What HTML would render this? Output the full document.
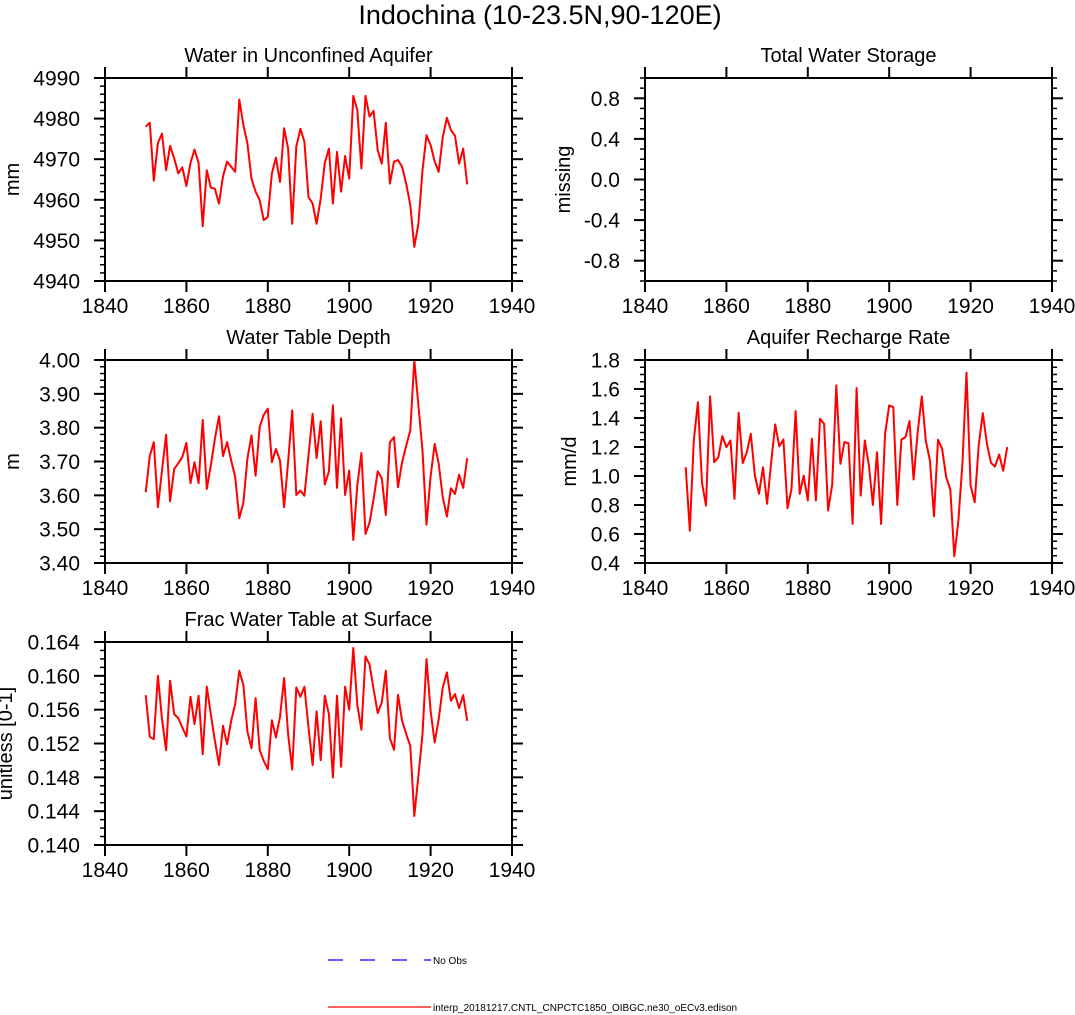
<!DOCTYPE html>
<html><head><meta charset="utf-8"><style>
html,body{margin:0;padding:0;background:#fff;}
svg{display:block;font-family:"Liberation Sans",sans-serif;}
</style></head><body>
<svg id="chart" width="1075" height="1015" viewBox="0 0 1075 1015" xmlns="http://www.w3.org/2000/svg">
<text x="540" y="24" text-anchor="middle" font-size="27">Indochina (10-23.5N,90-120E)</text>
<g>
<line x1="328" y1="960" x2="431" y2="960" stroke="#0000ff" stroke-width="1.2" stroke-dasharray="15,17"/>
<text x="433" y="964" font-size="10">No Obs</text>
<line x1="328" y1="1007" x2="431" y2="1007" stroke="#ff0000" stroke-width="1.2"/>
<text x="433" y="1011" font-size="10">interp_20181217.CNTL_CNPCTC1850_OIBGC.ne30_oECv3.edison</text>
</g>
</svg>
<script>
const years = [];
for (let y = 1850; y <= 1929; y++) years.push(y);
const xTicks = [1840, 1860, 1880, 1900, 1920, 1940];
const aquiferVals = [4978.0,4979.0,4964.7,4974.0,4976.3,4967.3,4973.3,4970.2,4966.5,4968.0,4963.4,4969.1,4972.4,4969.1,4953.5,4967.3,4963.0,4962.7,4959.1,4965.8,4969.4,4968.1,4966.9,4984.7,4978.4,4973.9,4965.2,4962.0,4959.9,4955.0,4955.8,4966.5,4970.4,4964.4,4977.6,4972.6,4954.1,4973.1,4977.5,4974.3,4960.7,4959.1,4954.1,4960.3,4969.1,4972.6,4959.1,4971.8,4962.0,4970.8,4965.2,4985.6,4982.1,4967.7,4985.6,4980.5,4981.9,4972.2,4968.9,4979.0,4964.0,4969.4,4969.8,4968.1,4964.0,4958.7,4948.4,4954.1,4967.3,4975.9,4973.5,4969.4,4966.9,4975.5,4980.2,4977.2,4975.8,4968.9,4972.6,4963.8];
const wtdVals = [3.609,3.716,3.757,3.565,3.673,3.779,3.582,3.678,3.695,3.713,3.755,3.636,3.698,3.636,3.823,3.619,3.688,3.767,3.834,3.716,3.757,3.703,3.654,3.532,3.579,3.708,3.777,3.658,3.802,3.838,3.856,3.698,3.737,3.703,3.565,3.698,3.851,3.601,3.614,3.599,3.718,3.841,3.710,3.819,3.632,3.670,3.866,3.622,3.828,3.601,3.673,3.468,3.629,3.725,3.486,3.520,3.589,3.671,3.651,3.542,3.757,3.772,3.624,3.698,3.747,3.792,4.000,3.866,3.732,3.513,3.656,3.752,3.693,3.594,3.537,3.621,3.604,3.661,3.622,3.710];
const rechargeVals = [1.061,0.623,1.245,1.510,0.953,0.796,1.549,1.095,1.128,1.275,1.199,1.245,0.842,1.436,1.089,1.164,1.291,1.003,0.877,1.061,0.808,1.095,1.356,1.204,1.252,0.778,0.911,1.448,0.877,1.003,0.831,1.257,0.831,1.395,1.360,0.762,0.939,1.625,1.084,1.234,1.227,0.669,1.607,0.865,1.245,1.072,0.800,1.164,0.669,1.291,1.487,1.475,0.800,1.252,1.268,1.379,0.976,1.303,1.549,1.245,1.107,0.722,1.250,1.188,0.992,0.907,0.446,0.692,1.095,1.713,0.934,0.819,1.211,1.434,1.222,1.091,1.065,1.148,1.036,1.199];
const fracVals = [0.15772,0.15279,0.15251,0.16001,0.15488,0.15121,0.15942,0.15547,0.15500,0.15390,0.15283,0.15753,0.15429,0.15765,0.15074,0.15871,0.15547,0.15232,0.14947,0.15409,0.15192,0.15468,0.15666,0.16061,0.15891,0.15342,0.15145,0.15737,0.15121,0.14995,0.14896,0.15476,0.15271,0.15516,0.15974,0.15311,0.14892,0.15863,0.15753,0.15871,0.15390,0.14943,0.15579,0.15003,0.15765,0.15547,0.14797,0.15765,0.14924,0.15871,0.15599,0.16329,0.15658,0.15362,0.16230,0.16132,0.15843,0.15559,0.15686,0.16061,0.15263,0.15125,0.15776,0.15468,0.15311,0.15172,0.14343,0.14817,0.15311,0.16199,0.15587,0.15212,0.15488,0.15863,0.16041,0.15705,0.15784,0.15618,0.15772,0.15468];
const aquiferTicks = ["4940","4950","4960","4970","4980","4990"];
const storageTicks = ["-0.8","-0.4","0.0","0.4","0.8"];
const wtdTicks = ["3.40","3.50","3.60","3.70","3.80","3.90","4.00"];
const rechargeTicks = ["0.4","0.6","0.8","1.0","1.2","1.4","1.6","1.8"];
const fracTicks = ["0.140","0.144","0.148","0.152","0.156","0.160","0.164"];

const NS = "http://www.w3.org/2000/svg";
const svg = document.getElementById("chart");
function mk(tag, attrs, parent) {
  const e = document.createElementNS(NS, tag);
  for (const k in attrs) e.setAttribute(k, attrs[k]);
  parent.appendChild(e);
  return e;
}
function panel(opt) {
  const g = mk("g", {}, svg);
  
  
  const L = opt.x, R = opt.x + 407, T = opt.y, B = opt.y + 203;
  const xs = v => L + (v - 1840) / 100 * (R - L);
  const ys = v => B - (v - opt.ymin) / (opt.ymax - opt.ymin) * (B - T);
  const t = mk("text", {x: (L + R) / 2, y: T - 16, "text-anchor": "middle", "font-size": 20}, g);
  t.textContent = opt.title;
  
  
  const yl = mk("text", {x: 0, y: 0, "text-anchor": "middle", "font-size": 20, transform: `translate(${opt.ylx},${(T + B) / 2}) rotate(-90)`}, g);
  yl.textContent = opt.ylabel;
  
  
  for (let v = opt.ymin; v <= opt.ymax + 1e-9; v += opt.minor) {
    const y = ys(v);
    mk("line", {x1: L - 5, x2: L, y1: y, y2: y, stroke: "#000", "stroke-width": 1.5}, g);
    mk("line", {x1: R, x2: R + 5, y1: y, y2: y, stroke: "#000", "stroke-width": 1.5}, g);
  }
  opt.ticks.forEach(s => {
    const y = ys(parseFloat(s));
    mk("line", {x1: L - 11, x2: L, y1: y, y2: y, stroke: "#000", "stroke-width": 2}, g);
    mk("line", {x1: R, x2: R + 11, y1: y, y2: y, stroke: "#000", "stroke-width": 2}, g);
    const lb = mk("text", {x: L - 25, y: y + 7.5, "text-anchor": "end", "font-size": 21}, g);
    lb.textContent = s;
    
    
  });
  xTicks.forEach(v => {
    const x = xs(v);
    mk("line", {x1: x, x2: x, y1: B, y2: B + 11, stroke: "#000", "stroke-width": 2}, g);
    mk("line", {x1: x, x2: x, y1: T - 11, y2: T, stroke: "#000", "stroke-width": 2}, g);
    const lb = mk("text", {x: x, y: B + 32, "text-anchor": "middle", "font-size": 21}, g);
    lb.textContent = String(v);
    
    
  });
  if (opt.vals) {
    const pts = opt.vals.map((v, i) => xs(years[i]).toFixed(1) + "," + ys(v).toFixed(1)).join(" ");
    const pl = mk("polyline", {points: pts, fill: "none", stroke: "#ff0000", "stroke-width": 2, "stroke-linejoin": "round"}, g);
    
    
  }
  const fr = mk("rect", {x: L, y: T, width: R - L, height: B - T, fill: "none", stroke: "#000", "stroke-width": 2}, g);
  
  
}
panel({name: "aquifer", x: 105, y: 78, title: "Water in Unconfined Aquifer", ylabel: "mm", ylx: 19, ymin: 4940, ymax: 4990, minor: 2, ticks: aquiferTicks, vals: aquiferVals});
panel({name: "storage", x: 645, y: 78, title: "Total Water Storage", ylabel: "missing", ylx: 570, ymin: -1, ymax: 1, minor: 0.1, ticks: storageTicks, vals: null});
panel({name: "wtd", x: 105, y: 360, title: "Water Table Depth", ylabel: "m", ylx: 19, ymin: 3.4, ymax: 4.0, minor: 0.02, ticks: wtdTicks, vals: wtdVals});
panel({name: "recharge", x: 645, y: 360, title: "Aquifer Recharge Rate", ylabel: "mm/d", ylx: 576, ymin: 0.4, ymax: 1.8, minor: 0.05, ticks: rechargeTicks, vals: rechargeVals});
panel({name: "frac", x: 105, y: 642, title: "Frac Water Table at Surface", ylabel: "unitless [0-1]", ylx: 12, ymin: 0.140, ymax: 0.164, minor: 0.001, ticks: fracTicks, vals: fracVals});
</script>
</body></html>
